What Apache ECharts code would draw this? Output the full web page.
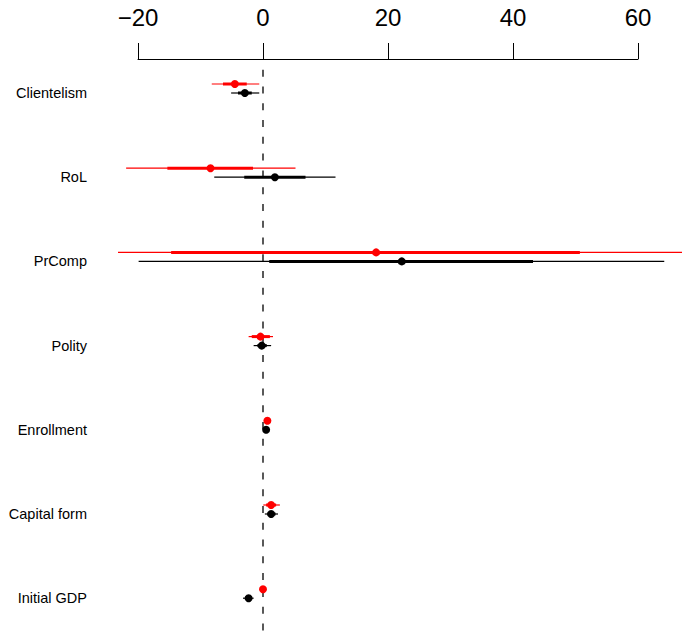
<!DOCTYPE html>
<html>
<head>
<meta charset="utf-8">
<script src="https://cdn.jsdelivr.net/npm/echarts@6/dist/echarts.min.js"></script>
<style>
  html, body { margin: 0; padding: 0; background: #fff; }
  #chart { width: 682px; height: 633px; }
</style>
</head>
<body>
<div id="chart"></div>
<script>
// Coefficient estimates with 90% (thick) and 95% (thin) intervals
const categories = ['Clientelism', 'RoL', 'PrComp', 'Polity', 'Enrollment', 'Capital form', 'Initial GDP'];

// Model A (red)
const redEst  = [-4.5,  -8.4,  18.1, -0.4, 0.7, 1.3,  0.0];
const redLo90 = [-6.4, -15.3, -14.7, -1.8, 0.4, 0.5, -0.2];
const redHi90 = [-2.6,  -1.6,  50.7,  1.1, 1.0, 2.1,  0.2];
const redLo95 = [-8.2, -21.9, -23.2, -2.3, 0.2, 0.05, -0.4];
const redHi95 = [-0.6,   5.2,  70.0,  1.6, 1.2, 2.7,  0.4];

// Model B (black)
const blkEst  = [-2.9,  1.9,  22.2, -0.2, 0.5, 1.3, -2.3];
const blkLo90 = [-4.0, -3.0,   1.0, -0.9, 0.2, 0.7, -2.9];
const blkHi90 = [-1.8,  6.8,  43.2,  0.6, 0.8, 2.0, -1.8];
const blkLo95 = [-5.1, -7.8, -19.9, -1.5, 0.0, 0.3, -3.2];
const blkHi95 = [-0.6, 11.6,  64.2,  1.3, 1.0, 2.4, -1.5];

const xTicks = [-20, 0, 20, 40, 60];

function rows(est, lo90, hi90, lo95, hi95) {
  return categories.map((c, i) => [i, est[i], lo95[i], hi95[i], lo90[i], hi90[i]]);
}

function intervalRenderer(color, dy) {
  return function (params, api) {
    const i = api.value(0);
    const pe = api.coord([api.value(1), i]);
    const y = pe[1] + dy;
    const a95 = api.coord([api.value(2), i])[0];
    const b95 = api.coord([api.value(3), i])[0];
    const a90 = api.coord([api.value(4), i])[0];
    const b90 = api.coord([api.value(5), i])[0];
    return {
      type: 'group',
      children: [
        { type: 'line', shape: { x1: a95, y1: y, x2: b95, y2: y }, style: { stroke: color, lineWidth: 1.2 } },
        { type: 'line', shape: { x1: a90, y1: y, x2: b90, y2: y }, style: { stroke: color, lineWidth: 3 } },
        { type: 'circle', shape: { cx: pe[0], cy: y, r: 4 }, style: { fill: color } }
      ]
    };
  };
}

const chart = echarts.init(document.getElementById('chart'), null, { renderer: 'svg' });

chart.setOption({
  animation: false,
  backgroundColor: '#ffffff',
  grid: [
    { left: 0, right: 0, top: 0, bottom: 0 },
    { left: 138, right: 44, top: 59, height: 10 }
  ],
  xAxis: [
    { gridIndex: 0, type: 'value', min: -42.08, max: 67.04, show: false },
    {
      gridIndex: 1, type: 'value', position: 'top', min: xTicks[0], max: xTicks[xTicks.length - 1], interval: 20,
      axisLine: { show: true, onZero: false, lineStyle: { color: '#000', width: 1 } },
      axisTick: { show: true, length: 16, lineStyle: { color: '#000', width: 1 } },
      splitLine: { show: false },
      axisLabel: {
        color: '#000', fontSize: 24, fontFamily: 'Liberation Sans, Arial, sans-serif', margin: 30,
        formatter: v => String(v).replace('-', '\u2212')
      }
    }
  ],
  yAxis: [
    { gridIndex: 0, type: 'value', inverse: true, min: -1.1045, max: 6.4133, show: false },
    { gridIndex: 1, type: 'value', show: false }
  ],
  series: [
    {
      // reference line at zero
      type: 'custom', xAxisIndex: 0, yAxisIndex: 0, silent: true,
      data: [[0]],
      renderItem: function (params, api) {
        const x = api.coord([api.value(0), 0])[0];
        return {
          type: 'line',
          shape: { x1: x, y1: 69.7, x2: x, y2: 640 },
          style: { stroke: '#000', lineWidth: 1.3, lineDash: [7, 9.78] }
        };
      }
    },
    {
      // row labels
      type: 'custom', xAxisIndex: 0, yAxisIndex: 0, silent: true,
      data: categories.map((c, i) => [i]),
      renderItem: function (params, api) {
        const y = api.coord([0, api.value(0)])[1];
        return {
          type: 'text',
          style: {
            text: categories[params.dataIndex], x: 87, y: y,
            align: 'right', verticalAlign: 'middle',
            fill: '#000', fontSize: 14.5, fontFamily: 'Liberation Sans, Arial, sans-serif'
          }
        };
      }
    },
    {
      name: 'Model A', type: 'custom', xAxisIndex: 0, yAxisIndex: 0,
      data: rows(redEst, redLo90, redHi90, redLo95, redHi95),
      encode: { x: [1, 2, 3, 4, 5], y: 0 },
      renderItem: intervalRenderer('#ff0000', -9)
    },
    {
      name: 'Model B', type: 'custom', xAxisIndex: 0, yAxisIndex: 0,
      data: rows(blkEst, blkLo90, blkHi90, blkLo95, blkHi95),
      encode: { x: [1, 2, 3, 4, 5], y: 0 },
      renderItem: intervalRenderer('#000000', 0)
    }
  ]
});
</script>
</body>
</html>
